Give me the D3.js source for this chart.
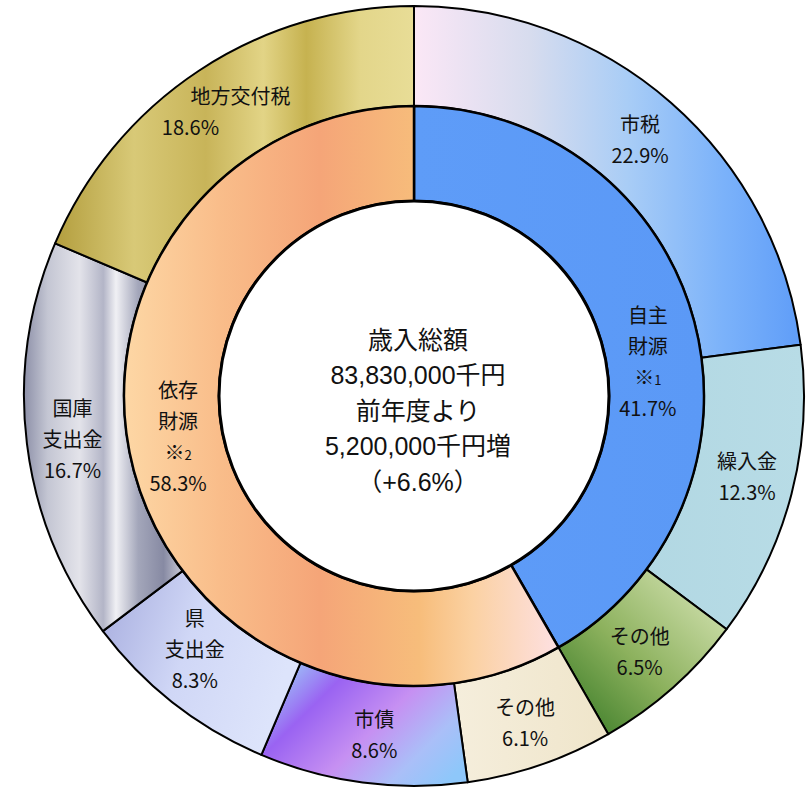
<!DOCTYPE html>
<html>
<head>
<meta charset="utf-8">
<script src="https://cdn.jsdelivr.net/npm/d3@7"></script>
<style>
  html, body { margin: 0; padding: 0; background: #fff; }
  svg { display: block; }
</style>
</head>
<body>
<div id="chart"></div>
<script>
// 歳入の内訳（%）
const innerNames = ["自主財源", "依存財源"];
const innerLines = [["自主", "財源"], ["依存", "財源"]];
const innerNotes = ["1", "2"];
const innerValues = [41.7, 58.3];

const outerNames = ["市税", "繰入金", "その他", "その他", "市債", "県支出金", "国庫支出金", "地方交付税"];
const outerLines = [["市税"], ["繰入金"], ["その他"], ["その他"], ["市債"], ["県", "支出金"], ["国庫", "支出金"], ["地方交付税"]];
const outerValues = [22.9, 12.3, 6.5, 6.1, 8.6, 8.3, 16.7, 18.6];

const centerLines = ["歳入総額", "83,830,000千円", "前年度より", "5,200,000千円増", "（+6.6%）"];

const width = 809, height = 789;
const cx = 414, cy = 396;
const rHole = 195, rMid = 290, rOuter = 390;

// gradient stops for each slice (direction x1,y1,x2,y2 in bbox units)
const outerFills = [
  { dir: [0, 0, 1, 0], stops: [["0", "#fbe7f6"], ["0.3", "#d7dcee"], ["0.55", "#a9cdf6"], ["0.8", "#7bb2fa"], ["1", "#5f9df8"]] },
  { dir: [0, 0, 1, 0], stops: [["0", "#b2d8e3"], ["1", "#b8dce6"]] },
  { dir: [0, 1, 1, 0], stops: [["0", "#2f7420"], ["0.45", "#8cb15d"], ["1", "#dfeabf"]] },
  { dir: [0, 0, 1, 0], stops: [["0", "#f5eedc"], ["1", "#efe5ca"]] },
  { dir: [0, 0.2, 1, 0.8], stops: [["0", "#9dc9f8"], ["0.25", "#9a63f2"], ["0.55", "#c690f2"], ["0.8", "#aabff8"], ["1", "#8ec7fa"]] },
  { dir: [0, 0, 1, 0.3], stops: [["0", "#a6acde"], ["0.5", "#d0d7f6"], ["1", "#dde4fb"]] },
  { dir: [0, 0, 1, 0], stops: [["0", "#8d90a8"], ["0.15", "#c4c6d3"], ["0.35", "#e3e3ea"], ["0.5", "#b3b5c7"], ["0.58", "#f0f0f4"], ["0.72", "#a3a6ba"], ["0.88", "#878aa3"], ["1", "#c9cad7"]] },
  { dir: [0, 0, 1, 0], stops: [["0", "#b39e3e"], ["0.22", "#d8c977"], ["0.42", "#c8b459"], ["0.58", "#e2d486"], ["0.7", "#c6b250"], ["0.85", "#e3d68a"], ["1", "#e8dd97"]] }
];
const innerFills = [
  { dir: [0, 0, 1, 0], stops: [["0", "#5e9cf8"], ["1", "#5b99f6"]] },
  { dir: [0, 0, 1, 0], stops: [["0", "#fdd7a5"], ["0.22", "#f9bd8a"], ["0.45", "#f5a578"], ["0.68", "#f7bd7b"], ["0.8", "#fbd1a2"], ["1", "#fde0e2"]] }
];
// small hand nudges of label blocks relative to the arc centroid
const outerNudge = [[2, 0], [4, -4], [0, 2], [1, 6], [5, 2], [-10, -14], [-4, 2], [14, 0]];
const outerPctShift = [0, 0, 0, 0, 0, 0, 0, -50];
const innerNudge = [[2, 28], [-4, -20]];

const svg = d3.select("#chart").append("svg")
    .attr("width", width)
    .attr("height", height);

const defs = svg.append("defs");
function addGradient(id, f) {
  const g = defs.append("linearGradient")
      .attr("id", id)
      .attr("x1", f.dir[0]).attr("y1", f.dir[1])
      .attr("x2", f.dir[2]).attr("y2", f.dir[3]);
  g.selectAll("stop").data(f.stops).join("stop")
      .attr("offset", d => d[0])
      .attr("stop-color", d => d[1]);
}
outerFills.forEach((f, i) => addGradient("og" + i, f));
innerFills.forEach((f, i) => addGradient("ig" + i, f));

const pie = d3.pie().sort(null).value(d => d);
const outerArcs = pie(outerValues);
const innerArcs = pie(innerValues);

const arcOuter = d3.arc().innerRadius(rMid).outerRadius(rOuter);
const arcInner = d3.arc().innerRadius(rHole).outerRadius(rMid);
const labelOuter = d3.arc().innerRadius(340).outerRadius(340);
const labelInner = d3.arc().innerRadius(240).outerRadius(240);

const g = svg.append("g").attr("transform", `translate(${cx},${cy})`);

g.append("g")
    .attr("stroke", "#000")
    .attr("stroke-width", 2)
    .attr("stroke-linejoin", "round")
  .selectAll("path")
  .data(outerArcs)
  .join("path")
    .attr("fill", (d, i) => `url(#og${i})`)
    .attr("d", arcOuter);

g.append("g")
    .attr("stroke", "#000")
    .attr("stroke-width", 2.5)
    .attr("stroke-linejoin", "round")
  .selectAll("path")
  .data(innerArcs)
  .join("path")
    .attr("fill", (d, i) => `url(#ig${i})`)
    .attr("d", arcInner);

// white centre
g.append("circle")
    .attr("r", rHole)
    .attr("fill", "#fff")
    .attr("stroke", "#000")
    .attr("stroke-width", 3);

const labelFont = "'Noto Sans CJK JP', 'Noto Sans', sans-serif";
const lineH = 31;

function drawLabel(sel, lines, note, pct, pos, pctShift) {
  const all = lines.slice();
  if (note) all.push("※");
  all.push(pct.toFixed(1) + "%");
  const t = sel.append("text")
      .attr("text-anchor", "middle")
      .attr("font-family", labelFont)
      .attr("font-size", 20)
      .attr("fill", "#111");
  const y0 = pos[1] - (all.length - 1) * lineH / 2;
  all.forEach((s, k) => {
    const last = k === all.length - 1;
    const ts = t.append("tspan")
        .attr("x", pos[0] + (last ? pctShift : 0))
        .attr("y", y0 + k * lineH)
        .attr("dy", "0.35em");
    if (s === "※") {
      ts.text("※");
      ts.append("tspan").attr("font-size", 13).text(note);
    } else {
      ts.text(s);
    }
  });
}

const labels = g.append("g");
outerArcs.forEach((d, i) => {
  const c = labelOuter.centroid(d);
  drawLabel(labels, outerLines[i], null, outerValues[i],
    [c[0] + outerNudge[i][0], c[1] + outerNudge[i][1]], outerPctShift[i]);
});
innerArcs.forEach((d, i) => {
  const c = labelInner.centroid(d);
  drawLabel(labels, innerLines[i], innerNotes[i], innerValues[i],
    [c[0] + innerNudge[i][0], c[1] + innerNudge[i][1]], 0);
});

// centre text
const ct = g.append("text")
    .attr("text-anchor", "middle")
    .attr("font-family", "'Liberation Sans', 'Noto Sans CJK JP', sans-serif")
    .attr("font-size", 25)
    .attr("fill", "#111");
centerLines.forEach((s, k) => {
  ct.append("tspan")
      .attr("x", 4)
      .attr("y", -56 + k * 35.5)
      .attr("dy", "0.35em")
      .text(s);
});
</script>
</body>
</html>
